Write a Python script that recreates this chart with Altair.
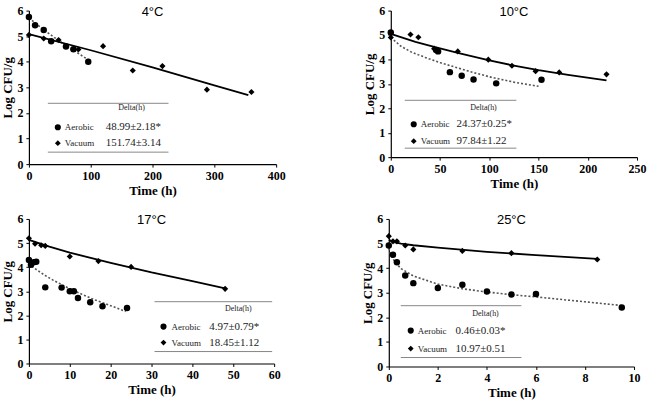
import altair as alt
import pandas as pd

# ---------------- data ----------------
# 4 °C
p4_aer_t = [0, 10, 24, 36, 60, 72, 96]
p4_aer_y = [5.75, 5.43, 5.24, 4.80, 4.60, 4.49, 4.00]
p4_vac_t = [0, 24, 48, 80, 120, 168, 216, 288, 360]
p4_vac_y = [5.05, 4.91, 4.85, 4.48, 4.61, 3.66, 3.83, 2.91, 2.82]
p4_aer_fit_t = [0, 24, 48, 72, 96]
p4_aer_fit_y = [5.72, 5.25, 4.83, 4.45, 4.08]
p4_vac_fit_t = [0, 100, 200, 300, 355]
p4_vac_fit_y = [5.08, 4.45, 3.78, 3.08, 2.70]

# 10 °C
p10_aer_t = [0, 46, 48, 60, 72, 84, 107, 153]
p10_aer_y = [5.10, 4.39, 4.33, 3.48, 3.33, 3.18, 3.02, 3.17]
p10_vac_t = [0, 20, 28, 44, 68, 99, 123, 147, 171, 219]
p10_vac_y = [4.90, 5.02, 4.91, 4.44, 4.33, 3.99, 3.74, 3.52, 3.47, 3.39]
p10_aer_fit_t = [0, 10, 20, 35, 50, 69, 85, 103, 125, 150]
p10_aer_fit_y = [4.90, 4.55, 4.32, 4.08, 3.87, 3.64, 3.45, 3.26, 3.07, 2.90]
p10_vac_fit_t = [0, 25, 45, 70, 100, 125, 150, 180, 219]
p10_vac_fit_y = [5.05, 4.72, 4.50, 4.25, 3.96, 3.75, 3.56, 3.37, 3.14]

# 17 °C
p17_aer_t = [0, 0.5, 1.2, 1.8, 4, 8, 10, 11, 12, 15, 18, 24]
p17_aer_y = [4.30, 4.10, 4.20, 4.22, 3.16, 3.15, 3.00, 3.00, 2.72, 2.54, 2.38, 2.30]
p17_vac_t = [0, 1.5, 3, 4, 10, 17, 25, 48]
p17_vac_y = [5.20, 4.97, 4.91, 4.88, 4.44, 4.25, 4.01, 3.10]
p17_aer_fit_t = [0, 1, 2, 4, 6, 8, 10, 13, 16, 20, 23.7]
p17_aer_fit_y = [4.15, 4.00, 3.88, 3.65, 3.45, 3.28, 3.10, 2.87, 2.65, 2.40, 2.16]
p17_vac_fit_t = [0, 5, 10, 20, 30, 40, 48]
p17_vac_fit_y = [5.13, 4.85, 4.60, 4.18, 3.78, 3.42, 3.12]

# 25 °C
p25_aer_t = [0, 0.17, 0.33, 0.67, 1, 2, 3, 4, 5, 6, 9.5]
p25_aer_y = [4.92, 4.54, 4.24, 3.70, 3.39, 3.19, 3.32, 3.05, 2.93, 2.95, 2.40]
p25_vac_t = [0, 0.17, 0.33, 0.67, 1, 3, 5, 8.5]
p25_vac_y = [5.30, 5.09, 5.09, 4.92, 4.76, 4.70, 4.61, 4.35]
p25_aer_fit_t = [0, 0.1, 0.25, 0.5, 1, 2, 3, 4, 5, 6, 8, 9.5]
p25_aer_fit_y = [4.80, 4.50, 4.25, 3.98, 3.68, 3.35, 3.16, 3.03, 2.92, 2.83, 2.63, 2.48]
p25_vac_fit_t = [0, 0.25, 0.5, 1, 2, 4, 6, 8.5]
p25_vac_fit_y = [5.15, 5.05, 5.00, 4.93, 4.83, 4.66, 4.53, 4.38]

titles = ["4°C", "10°C", "17°C", "25°C"]
x_max = [400, 250, 60, 10]
x_ticks = [[0, 100, 200, 300, 400], [0, 50, 100, 150, 200, 250],
           [0, 10, 20, 30, 40, 50, 60], [0, 2, 4, 6, 8, 10]]
aer_delta = ["48.99±2.18*", "24.37±0.25*", "4.97±0.79*", "0.46±0.03*"]
vac_delta = ["151.74±3.14", "97.84±1.22", "18.45±1.12", "10.97±0.51"]
legend_header = "Delta(h)"
legend_names = ["Aerobic", "Vacuum"]

SERIF = "Liberation Serif"
SANS = "Liberation Sans"


def one():
    return pd.DataFrame({"a": [0]})


def panel(i, aer_t, aer_y, vac_t, vac_y, af_t, af_y, vf_t, vf_y, w, h, leg):
    xs = alt.Scale(domain=[0, x_max[i]], nice=False)
    ys = alt.Scale(domain=[0, 6], nice=False)
    xax = alt.Axis(values=x_ticks[i], title="Time (h)")
    yax = alt.Axis(values=[0, 1, 2, 3, 4, 5, 6], title="Log CFU/g")
    X = lambda: alt.X("t:Q", scale=xs, axis=xax)
    Y = lambda: alt.Y("y:Q", scale=ys, axis=yax)

    aer = pd.DataFrame({"t": aer_t, "y": aer_y})
    vac = pd.DataFrame({"t": vac_t, "y": vac_y})
    af = pd.DataFrame({"t": af_t, "y": af_y})
    vf = pd.DataFrame({"t": vf_t, "y": vf_y})

    l_af = alt.Chart(af).mark_line(color="#555", strokeWidth=1.6, strokeDash=[2, 2]).encode(x=X(), y=Y())
    l_vf = alt.Chart(vf).mark_line(color="black", strokeWidth=1.8).encode(x=X(), y=Y())
    p_aer = alt.Chart(aer).mark_point(shape="circle", filled=True, color="black", opacity=1, size=42).encode(x=X(), y=Y())
    p_vac = alt.Chart(vac).mark_point(shape="diamond", filled=True, color="black", opacity=1, size=38).encode(x=X(), y=Y())

    ttl = alt.Chart(one()).mark_text(font=SANS, fontSize=13, color="black", baseline="middle", align="center").encode(
        x=alt.value(w / 2), y=alt.value(1), text=alt.value(titles[i]))

    x0, x1, ytop, ybot, xhead, yhead, xmk, xname, xval, yrow1, yrow2 = leg
    r_top = alt.Chart(one()).mark_rule(color="#888", strokeWidth=1).encode(
        x=alt.value(x0), x2=alt.value(x1), y=alt.value(ytop))
    r_bot = alt.Chart(one()).mark_rule(color="#888", strokeWidth=1).encode(
        x=alt.value(x0), x2=alt.value(x1), y=alt.value(ybot))
    t_head = alt.Chart(one()).mark_text(font=SERIF, fontSize=8, color="#222", align="center", baseline="middle").encode(
        x=alt.value(xhead), y=alt.value(yhead), text=alt.value(legend_header))
    m1 = alt.Chart(one()).mark_point(shape="circle", filled=True, color="black", opacity=1, size=38).encode(
        x=alt.value(xmk), y=alt.value(yrow1))
    m2 = alt.Chart(one()).mark_point(shape="diamond", filled=True, color="black", opacity=1, size=34).encode(
        x=alt.value(xmk), y=alt.value(yrow2))
    n1 = alt.Chart(one()).mark_text(font=SERIF, fontSize=9, color="#222", align="left", baseline="middle").encode(
        x=alt.value(xname), y=alt.value(yrow1), text=alt.value(legend_names[0]))
    n2 = alt.Chart(one()).mark_text(font=SERIF, fontSize=9, color="#222", align="left", baseline="middle").encode(
        x=alt.value(xname), y=alt.value(yrow2), text=alt.value(legend_names[1]))
    v1 = alt.Chart(one()).mark_text(font=SERIF, fontSize=11, color="#222", align="left", baseline="middle").encode(
        x=alt.value(xval), y=alt.value(yrow1), text=alt.value(aer_delta[i]))
    v2 = alt.Chart(one()).mark_text(font=SERIF, fontSize=11, color="#222", align="left", baseline="middle").encode(
        x=alt.value(xval), y=alt.value(yrow2), text=alt.value(vac_delta[i]))

    return alt.layer(l_af, l_vf, p_aer, p_vac, ttl, r_top, r_bot, t_head, m1, m2, n1, n2, v1, v2).properties(
        width=w, height=h)


c1 = panel(0, p4_aer_t, p4_aer_y, p4_vac_t, p4_vac_y, p4_aer_fit_t, p4_aer_fit_y, p4_vac_fit_t, p4_vac_fit_y,
           248, 154, (19, 140, 93, 142, 103, 98, 29, 36, 77, 117, 133))
c2 = panel(1, p10_aer_t, p10_aer_y, p10_vac_t, p10_vac_y, p10_aer_fit_t, p10_aer_fit_y, p10_vac_fit_t, p10_vac_fit_y,
           247, 147, (14, 126, 90, 138, 93, 98, 23, 30, 66, 114, 131))
c3 = panel(2, p17_aer_t, p17_aer_y, p17_vac_t, p17_vac_y, p17_aer_fit_t, p17_aer_fit_y, p17_vac_fit_t, p17_vac_fit_y,
           246, 145, (126, 244, 83, 133, 210, 90, 135, 143, 181, 108, 124))
c4 = panel(3, p25_aer_t, p25_aer_y, p25_vac_t, p25_vac_y, p25_aer_fit_t, p25_aer_fit_y, p25_vac_fit_t, p25_vac_fit_y,
           246, 148, (12, 133, 87, 139, 97, 95, 22, 29, 67, 112, 130))

chart = alt.vconcat(
    alt.hconcat(c1, c2, spacing=79),
    alt.hconcat(c3, c4, spacing=82),
    spacing=16,
).properties(
    padding={"left": 2, "top": 4, "right": 2, "bottom": 2},
    background="white",
).configure_view(stroke=None).configure_axis(
    grid=False,
    domainColor="black",
    domainWidth=1.2,
    tickColor="black",
    tickSize=3,
    labelFont=SERIF,
    labelFontWeight="bold",
    labelFontSize=12,
    labelColor="black",
    labelPadding=3,
    titleFont=SERIF,
    titleFontWeight="bold",
    titleFontSize=13,
    titleColor="black",
).configure_axisX(titlePadding=3, labelFlush=False).configure_axisY(titlePadding=2, labelFlush=False)

chart.save("out.html", embed_options={"renderer": "svg", "actions": False})
